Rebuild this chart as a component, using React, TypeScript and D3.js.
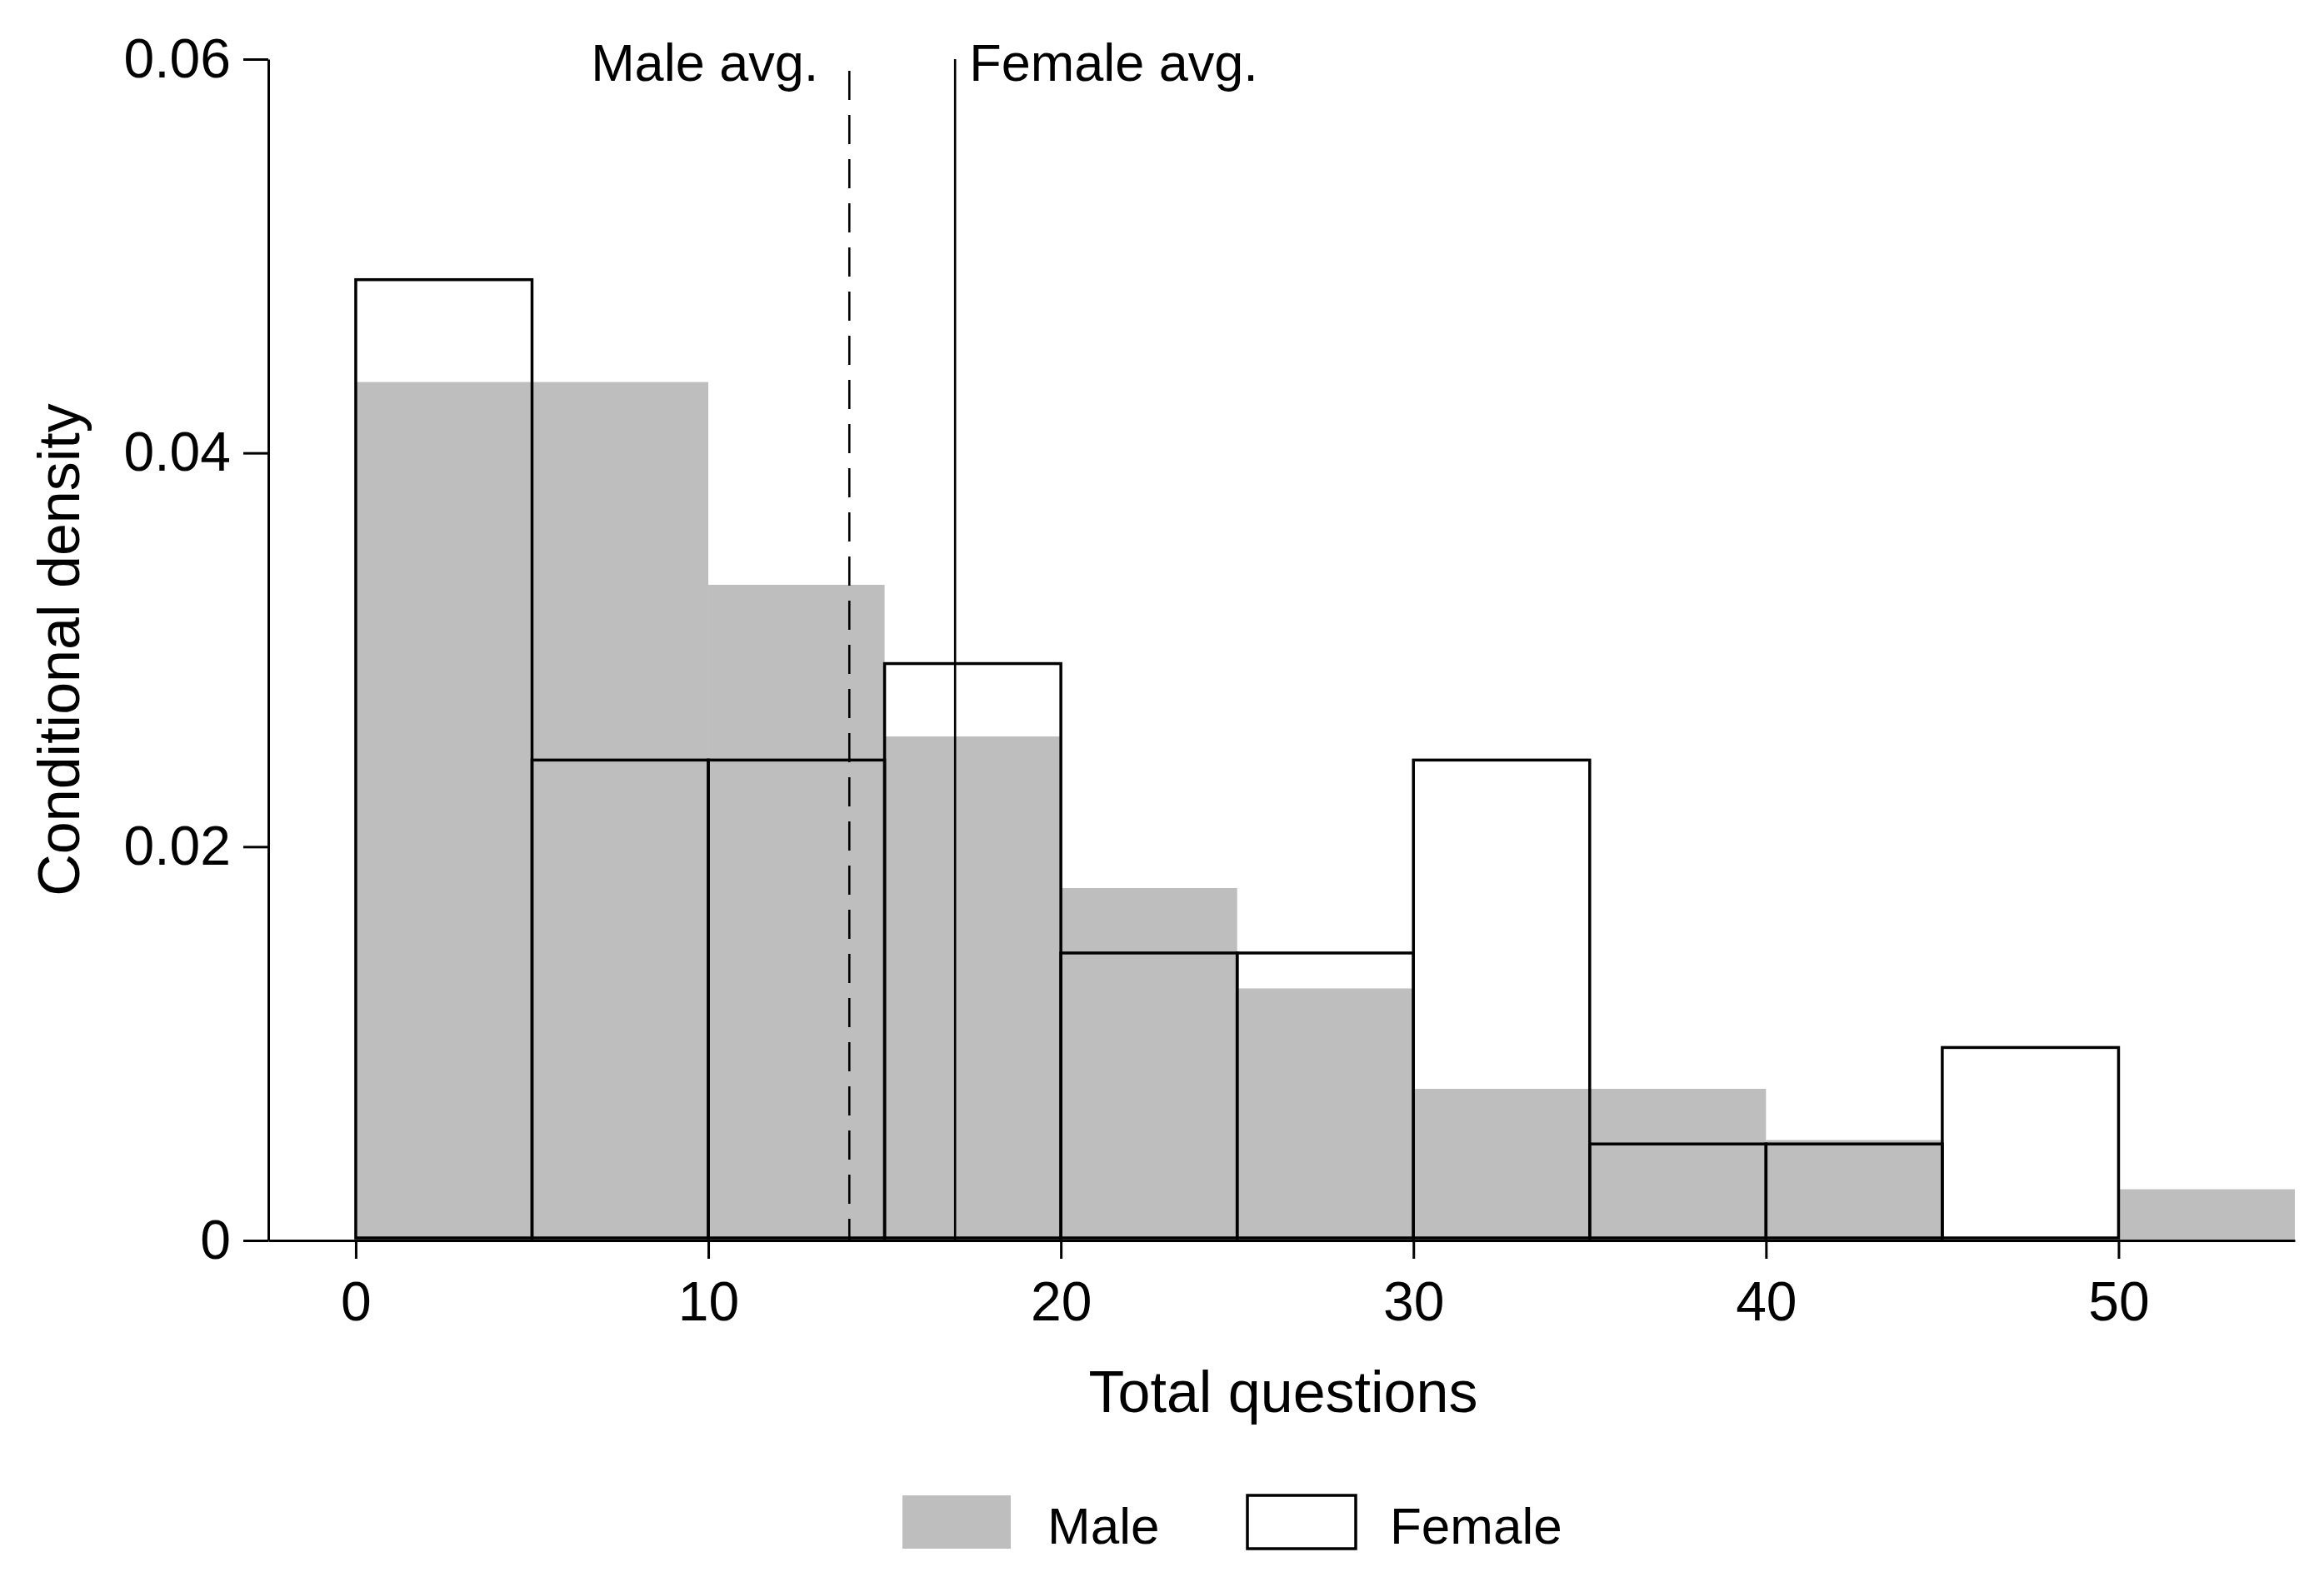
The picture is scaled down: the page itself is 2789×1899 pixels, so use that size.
import React from 'react';
import * as d3 from 'd3';

// histogram bins of width 5 on "Total questions"
const binStarts = [0, 5, 10, 15, 20, 25, 30, 35, 40, 45, 50];
const maleDensity = [0.0436, 0.0436, 0.0333, 0.0256, 0.0179, 0.0128, 0.0077, 0.0077, 0.0051, 0, 0.0026];
const femaleDensity = [0.0488, 0.0244, 0.0244, 0.0293, 0.0146, 0.0146, 0.0244, 0.0049, 0.0049, 0.0098, 0];
const binWidth = 5;

const averages = [
  { label: 'Male avg.', value: 14.0, dashed: true },
  { label: 'Female avg.', value: 17.0, dashed: false },
];

const xTicks = [0, 10, 20, 30, 40, 50];
const yTicks = [0, 0.02, 0.04, 0.06];
const legendItems = ['Male', 'Female'];

const W = 2789;
const H = 1899;
const FONT = '"Liberation Sans", Arial, sans-serif';
const GRAY = '#bebebe';

function drawChart(svgEl: SVGSVGElement) {
  const svg = d3.select(svgEl);
  svg.selectAll('*').remove();

  // axis lines sit at x=322 (y axis) and y=1489 (x axis)
  const x = d3.scaleLinear([-2.48, 55], [322, 2754]);
  const y = d3.scaleLinear([0, 0.06], [1489, 71]);

  const bins = binStarts.map((b, i) => ({ x0: b, male: maleDensity[i], female: femaleDensity[i] }));

  // male: filled gray
  svg
    .append('g')
    .selectAll('rect')
    .data(bins.filter((d) => d.male > 0))
    .enter()
    .append('rect')
    .attr('x', (d) => x(d.x0))
    .attr('width', (d) => x(d.x0 + binWidth) - x(d.x0))
    .attr('y', (d) => y(d.male))
    .attr('height', (d) => y(0) - y(d.male))
    .attr('fill', GRAY);

  // female: outline only
  svg
    .append('g')
    .selectAll('rect')
    .data(bins.filter((d) => d.female > 0))
    .enter()
    .append('rect')
    .attr('x', (d) => x(d.x0))
    .attr('width', (d) => x(d.x0 + binWidth) - x(d.x0))
    .attr('y', (d) => y(d.female))
    .attr('height', (d) => y(0) - 3 - y(d.female))
    .attr('fill', 'none')
    .attr('stroke', '#000')
    .attr('stroke-width', 3.5);

  // average lines + labels
  const avg = svg.append('g');
  averages.forEach((a) => {
    avg
      .append('line')
      .attr('x1', x(a.value))
      .attr('x2', x(a.value))
      .attr('y1', a.dashed ? 85 : y(0.06))
      .attr('y2', y(0))
      .attr('stroke', '#000')
      .attr('stroke-width', 2.6)
      .attr('stroke-dasharray', a.dashed ? '35 18' : null);
    avg
      .append('text')
      .attr('x', a.dashed ? x(a.value) - 37 : x(a.value) + 17)
      .attr('y', 97)
      .attr('text-anchor', a.dashed ? 'end' : 'start')
      .attr('font-family', FONT)
      .attr('font-size', 63)
      .attr('fill', '#000')
      .text(a.label);
  });

  // x axis
  const xAxis = svg
    .append('g')
    .attr('transform', `translate(0,${y(0)})`)
    .call(d3.axisBottom(x).tickValues(xTicks).tickSize(22).tickSizeOuter(0).tickPadding(27).tickFormat(d3.format('d')));
  xAxis.select('.domain').attr('stroke', '#000').attr('stroke-width', 3);
  xAxis.selectAll('.tick line').attr('stroke', '#000').attr('stroke-width', 3);
  xAxis.selectAll('text').attr('font-family', FONT).attr('font-size', 66).attr('fill', '#000');

  // y axis
  const yAxis = svg
    .append('g')
    .attr('transform', `translate(${x(-2.48)},0)`)
    .call(
      d3
        .axisLeft(y)
        .tickValues(yTicks)
        .tickSize(30)
        .tickSizeOuter(0)
        .tickPadding(15)
        .tickFormat((d) => (d === 0 ? '0' : d3.format('.2f')(d as number))),
    );
  yAxis.select('.domain').attr('stroke', '#000').attr('stroke-width', 3);
  yAxis.selectAll('.tick line').attr('stroke', '#000').attr('stroke-width', 3);
  yAxis.selectAll('text').attr('font-family', FONT).attr('font-size', 66).attr('fill', '#000');

  // axis titles
  svg
    .append('text')
    .attr('x', 1540)
    .attr('y', 1695)
    .attr('text-anchor', 'middle')
    .attr('font-family', FONT)
    .attr('font-size', 70)
    .text('Total questions');
  svg
    .append('text')
    .attr('transform', 'translate(95,780) rotate(-90)')
    .attr('text-anchor', 'middle')
    .attr('font-family', FONT)
    .attr('font-size', 70)
    .text('Conditional density');

  // legend
  const legendX = [1083, 1497];
  const lg = svg.append('g');
  legendItems.forEach((name, i) => {
    lg.append('rect')
      .attr('x', legendX[i])
      .attr('y', 1795)
      .attr('width', 130)
      .attr('height', 64)
      .attr('fill', i === 0 ? GRAY : '#fff')
      .attr('stroke', i === 0 ? 'none' : '#000')
      .attr('stroke-width', 3.5);
    lg.append('text')
      .attr('x', legendX[i] + (i === 0 ? 174 : 171))
      .attr('y', 1853)
      .attr('font-family', FONT)
      .attr('font-size', 62)
      .text(name);
  });
}

export default function App() {
  const ref = React.useRef<SVGSVGElement>(null);

  React.useEffect(() => {
    if (ref.current) drawChart(ref.current);
  }, []);

  return (
    <div>
      <style>{'body{margin:0;background:#fff}'}</style>
      <svg ref={ref} width={W} height={H} style={{ display: 'block', background: '#fff' }} />
    </div>
  );
}
